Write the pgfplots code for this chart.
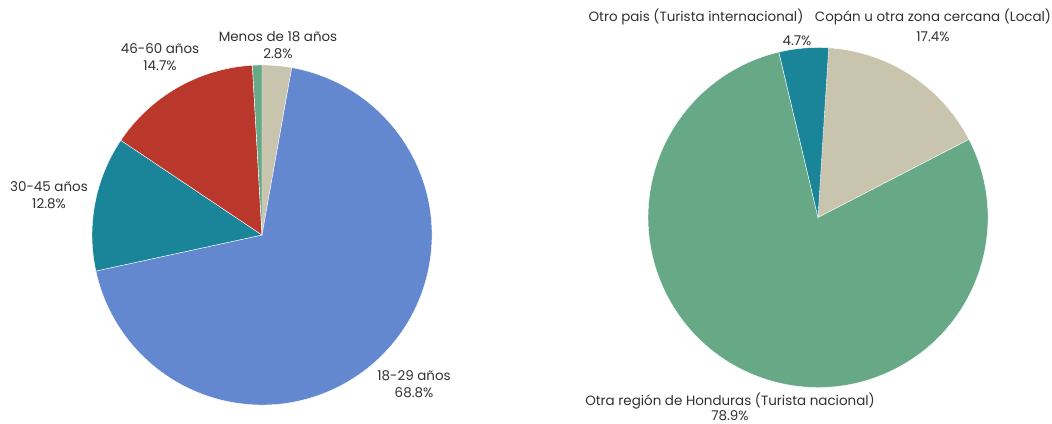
\documentclass[border=0pt]{standalone}
\usepackage{pgfplots}
\pgfplotsset{compat=1.18}
\usepackage{fontspec}
\setmainfont{Poppins}
\definecolor{cbeige}{HTML}{C9C4AD}
\definecolor{cblue}{HTML}{6388CF}
\definecolor{cteal}{HTML}{1A8499}
\definecolor{cred}{HTML}{BA372C}
\definecolor{cgreen}{HTML}{67A987}
\definecolor{ctext}{HTML}{303030}
\newcommand\pie[4]{% cx, cy, r, list value/color
  \def\cum{0}%
  \foreach \v/\c in {#4}{%
    \pgfmathsetmacro\a{90-3.6*\cum}%
    \pgfmathsetmacro\b{90-3.6*(\cum+\v)}%
    \edef\temp{\noexpand\fill[\c,draw=white,line width=0.4bp] (axis cs:#1,#2) -- ++(\a:#3bp) arc[start angle=\a, end angle=\b, radius=#3bp] -- cycle;}%
    \temp
    \pgfmathsetmacro\newcum{\cum+\v}%
    \global\let\cum\newcum
  }%
}
\tikzset{lbl/.style={font=\fontsize{13.5}{17}\selectfont, text=ctext, align=center, inner sep=0pt}}
\begin{document}
\begin{tikzpicture}
\begin{axis}[
  hide axis, scale only axis,
  width=1052bp, height=424bp,
  xmin=0, xmax=1052, ymin=0, ymax=424,
  clip=false,
]
\path (axis cs:0,0) rectangle (axis cs:1052,424);
% Age groups: Menos de 18, 18-29, 30-45, 46-60, Mas de 60
\pie{262}{189}{170}{2.8/cbeige, 68.8/cblue, 12.8/cteal, 14.7/cred, 0.9/cgreen}
% Origin: Copan/local, Otra region, Otro pais
\pie{818}{206.5}{170}{17.4/cbeige, 78.9/cgreen, 4.7/cteal}
\node[lbl] at (axis cs:278,379) {Menos de 18 años\\2.8\%};
\node[lbl] at (axis cs:160,367) {46-60 años\\14.7\%};
\node[lbl] at (axis cs:49,229) {30-45 años\\12.8\%};
\node[lbl] at (axis cs:414,40) {18-29 años\\68.8\%};
\node[lbl] at (axis cs:696,407) {Otro pais (Turista internacional)};
\node[lbl] at (axis cs:797,383) {4.7\%};
\node[lbl] at (axis cs:933,407) {Copán u otra zona cercana (Local)};
\node[lbl] at (axis cs:933,387) {17.4\%};
\node[lbl] at (axis cs:730,23) {Otra región de Honduras (Turista nacional)};
\node[lbl] at (axis cs:730,8) {78.9\%};
\end{axis}
\end{tikzpicture}
\end{document}
